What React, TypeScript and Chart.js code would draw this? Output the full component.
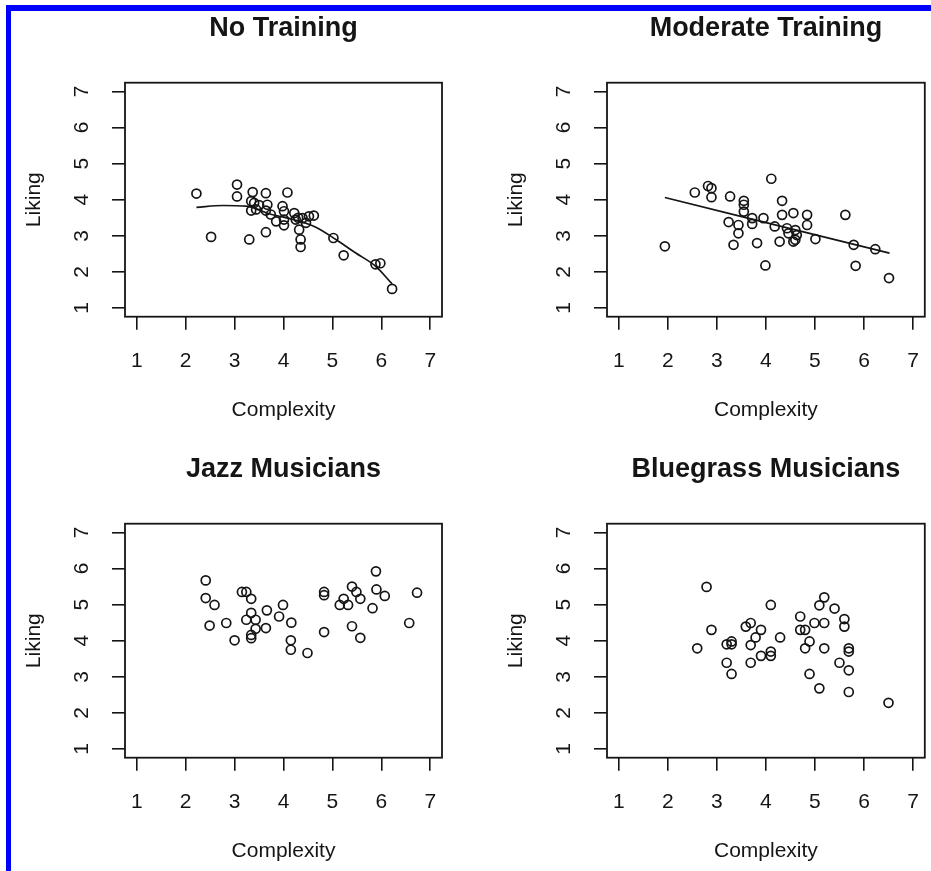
import React, { useEffect, useRef } from "react";
import { Chart, registerables } from "chart.js";

Chart.register(...registerables);

// ---------- data ----------
const tickValues = [1, 2, 3, 4, 5, 6, 7];
const axisMin = 0.76;
const axisMax = 7.24;

const titles = ["No Training", "Moderate Training", "Jazz Musicians", "Bluegrass Musicians"];
const xAxisTitle = "Complexity";
const yAxisTitle = "Liking";

const noTrainingX = [2.22, 2.52, 3.05, 3.05, 3.30, 3.37, 3.64, 4.08, 3.34, 3.40, 3.44, 3.34, 3.67, 3.64, 3.74, 3.85, 3.98, 4.01, 4.01, 4.01, 4.22, 4.25, 4.39, 4.52, 4.62, 4.46, 4.32, 4.35, 4.35, 3.64, 5.02, 5.23, 5.88, 5.98, 6.22, 3.50, 4.30];
const noTrainingY = [4.17, 2.97, 4.42, 4.09, 2.90, 4.21, 4.18, 4.20, 3.96, 3.91, 3.73, 3.70, 3.86, 3.70, 3.59, 3.40, 3.82, 3.68, 3.45, 3.29, 3.63, 3.45, 3.49, 3.54, 3.56, 3.36, 3.17, 2.90, 2.69, 3.10, 2.94, 2.46, 2.21, 2.24, 1.53, 3.85, 3.50];
const noTrainingCurveX = [2.22, 2.76, 3.24, 3.71, 4.25, 4.66, 5.07, 5.47, 5.88, 6.22];
const noTrainingCurveY = [3.79, 3.84, 3.82, 3.61, 3.43, 3.24, 2.90, 2.53, 2.16, 1.67];

const moderateX = [1.94, 2.55, 2.82, 2.89, 2.89, 3.27, 3.24, 3.44, 3.44, 3.34, 3.55, 3.55, 3.55, 3.72, 3.72, 3.95, 3.82, 3.99, 4.11, 4.18, 4.33, 4.33, 4.56, 4.43, 4.46, 4.60, 4.63, 4.60, 4.28, 4.56, 4.84, 4.84, 5.01, 5.62, 5.79, 5.83, 6.23, 6.51];
const moderateY = [2.71, 4.20, 4.38, 4.32, 4.07, 4.09, 3.38, 3.30, 3.07, 2.75, 3.97, 3.86, 3.67, 3.49, 3.33, 3.49, 2.80, 2.18, 4.58, 3.26, 3.97, 3.58, 3.63, 3.21, 3.07, 3.16, 3.02, 2.89, 2.84, 2.84, 3.58, 3.30, 2.91, 3.58, 2.75, 2.17, 2.63, 1.83];
const moderateLineX = [1.94, 6.52];
const moderateLineY = [4.06, 2.52];

const jazzX = [2.41, 2.41, 2.59, 2.49, 2.83, 3.00, 3.15, 3.24, 3.34, 3.34, 3.24, 3.43, 3.43, 3.34, 3.34, 3.66, 3.64, 3.91, 3.99, 4.16, 4.15, 4.15, 4.49, 4.83, 4.83, 4.83, 5.15, 5.23, 5.32, 5.40, 5.49, 5.57, 5.40, 5.57, 5.82, 5.89, 5.90, 6.07, 6.57, 6.73];
const jazzY = [5.67, 5.18, 4.99, 4.42, 4.49, 4.01, 5.35, 5.35, 5.16, 4.77, 4.58, 4.58, 4.33, 4.16, 4.07, 4.84, 4.35, 4.67, 4.99, 4.50, 4.01, 3.75, 3.66, 5.35, 5.26, 4.24, 4.99, 5.16, 4.99, 5.50, 5.35, 5.16, 4.40, 4.08, 4.90, 5.92, 5.42, 5.24, 4.49, 5.33];

const bluegrassX = [2.79, 2.89, 2.60, 3.20, 3.30, 3.30, 3.20, 3.30, 3.59, 3.69, 3.90, 3.79, 3.69, 3.90, 3.69, 4.10, 4.10, 4.10, 4.29, 4.70, 4.70, 4.80, 4.89, 4.80, 4.89, 4.99, 5.09, 5.19, 5.19, 5.19, 5.09, 5.40, 5.60, 5.60, 5.50, 5.69, 5.69, 5.69, 5.69, 6.50];
const bluegrassY = [5.49, 4.30, 3.79, 3.90, 3.98, 3.90, 3.39, 3.08, 4.39, 4.49, 4.30, 4.09, 3.88, 3.58, 3.39, 4.99, 3.70, 3.58, 4.09, 4.67, 4.30, 4.30, 3.98, 3.79, 3.08, 4.49, 4.98, 5.20, 4.49, 3.79, 2.68, 4.89, 4.60, 4.39, 3.39, 3.79, 3.70, 3.18, 2.58, 2.28];

// ---------- helpers ----------
const FONT = "'Liberation Sans', Arial, Helvetica, sans-serif";
const INK = "#151515";

const toPoints = (xs: number[], ys: number[]) => xs.map((x, i) => ({ x, y: ys[i] }));

const boxPlugin = {
  id: "plotBox",
  afterDraw(chart: any) {
    const { ctx, chartArea } = chart;
    const { left, top, right, bottom } = chartArea;
    ctx.save();
    ctx.strokeStyle = INK;
    ctx.lineWidth = 1.8;
    ctx.strokeRect(left, top, right - left, bottom - top);
    ctx.restore();
  },
};

type PanelProps = {
  title: string;
  xs: number[];
  ys: number[];
  lineX?: number[];
  lineY?: number[];
  left: number;
  top: number;
  width: number;
  height: number;
  padRight: number;
};

function Panel(props: PanelProps) {
  const ref = useRef<HTMLCanvasElement | null>(null);
  useEffect(() => {
    if (!ref.current) return;
    const datasets: any[] = [
      {
        data: toPoints(props.xs, props.ys),
        showLine: false,
        pointStyle: "circle",
        pointRadius: 4.5,
        pointBorderWidth: 1.7,
        pointBorderColor: INK,
        pointBackgroundColor: "rgba(0,0,0,0)",
      },
    ];
    if (props.lineX && props.lineY) {
      datasets.push({
        data: toPoints(props.lineX, props.lineY),
        showLine: true,
        tension: 0.4,
        cubicInterpolationMode: "monotone",
        pointRadius: 0,
        borderColor: INK,
        borderWidth: 1.7,
        fill: false,
      });
    }
    const setTicks = (scale: any) => {
      scale.ticks = tickValues.map((v) => ({ value: v }));
    };
    const chart = new Chart(ref.current, {
      type: "scatter",
      data: { datasets },
      plugins: [boxPlugin],
      options: {
        animation: false,
        responsive: false,
        devicePixelRatio: 1,
        layout: { padding: { left: 0, top: 0, bottom: 0, right: props.padRight } },
        plugins: {
          legend: { display: false },
          tooltip: { enabled: false },
          title: {
            display: true,
            text: props.title,
            fullSize: false,
            color: INK,
            font: { family: FONT, size: 27, weight: "bold", lineHeight: 1.2 },
            padding: { top: 12, bottom: 38.3 },
          },
        },
        scales: {
          x: {
            type: "linear",
            position: "bottom",
            min: axisMin,
            max: axisMax,
            afterBuildTicks: setTicks,
            afterFit: (s: any) => {
              s.height = 123.3;
              s.paddingLeft = 0;
              s.paddingRight = 0;
            },
            border: { display: false },
            grid: {
              drawOnChartArea: false,
              drawTicks: true,
              tickLength: 13,
              color: INK,
              lineWidth: 1.6,
            },
            ticks: {
              autoSkip: false,
              maxRotation: 0,
              minRotation: 0,
              padding: 19,
              color: INK,
              font: { family: FONT, size: 21 },
              callback: (v: any) => String(v),
            },
            title: {
              display: true,
              text: xAxisTitle,
              color: INK,
              font: { family: FONT, size: 21, lineHeight: 1.2 },
              padding: { top: 0, bottom: 17 },
            },
          },
          y: {
            type: "linear",
            position: "left",
            min: axisMin,
            max: axisMax,
            afterBuildTicks: setTicks,
            afterFit: (s: any) => {
              s.width = 125;
              s.paddingTop = 0;
              s.paddingBottom = 0;
            },
            border: { display: false },
            grid: {
              drawOnChartArea: false,
              drawTicks: true,
              tickLength: 13,
              color: INK,
              lineWidth: 1.6,
            },
            ticks: {
              autoSkip: false,
              minRotation: 90,
              maxRotation: 90,
              crossAlign: "center",
              padding: 24,
              color: INK,
              font: { family: FONT, size: 21 },
              callback: (v: any) => String(v),
            },
            title: {
              display: true,
              text: yAxisTitle,
              color: INK,
              font: { family: FONT, size: 21, lineHeight: 1.2 },
              padding: { top: 22, bottom: 0 },
            },
          },
        },
      } as any,
    });
    return () => chart.destroy();
  }, []);
  return (
    <canvas
      ref={ref}
      width={props.width}
      height={props.height}
      style={{
        position: "absolute",
        left: props.left,
        top: props.top,
        width: props.width,
        height: props.height,
      }}
    />
  );
}

export default function App() {
  return (
    <div
      style={{
        position: "absolute",
        left: 0,
        top: 0,
        width: 931,
        height: 871,
        background: "#ffffff",
        overflow: "hidden",
      }}
    >
      <Panel title={titles[0]} xs={noTrainingX} ys={noTrainingY} lineX={noTrainingCurveX} lineY={noTrainingCurveY} left={0} top={0} width={470} height={440} padRight={28} />
      <Panel title={titles[1]} xs={moderateX} ys={moderateY} lineX={moderateLineX} lineY={moderateLineY} left={482} top={0} width={449} height={440} padRight={6.2} />
      <Panel title={titles[2]} xs={jazzX} ys={jazzY} left={0} top={441} width={470} height={440} padRight={28} />
      <Panel title={titles[3]} xs={bluegrassX} ys={bluegrassY} left={482} top={441} width={449} height={440} padRight={6.2} />
      <div style={{ position: "absolute", left: 6, top: 5, width: 925, height: 6, background: "#0000ff" }} />
      <div style={{ position: "absolute", left: 6, top: 5, width: 5, height: 866, background: "#0000ff" }} />
    </div>
  );
}
